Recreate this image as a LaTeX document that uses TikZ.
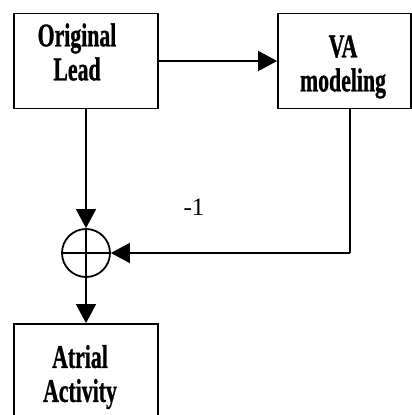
\documentclass[tikz,border=0pt]{standalone}
\usepackage{fontspec}
\setmainfont{Liberation Serif}
\newfontfamily\lblfont[BoldFeatures={FakeBold=1.2}]{Liberation Serif}
\usetikzlibrary{arrows.meta}
\tikzset{
  box/.style={draw, line width=1.8pt, rectangle, inner sep=0pt},
  lbl/.style={align=center, font=\lblfont\fontsize{33}{34}\selectfont\bfseries, xscale=0.66, inner sep=0pt},
  conn/.style={line width=1.8pt},
  arr/.style={line width=1.8pt, -{Triangle[length=19pt, width=20pt]}},
}
\begin{document}
\begin{tikzpicture}[x=1pt, y=-1pt]
\useasboundingbox (0,0) rectangle (412,415);
\node[box, minimum width=144pt, minimum height=95pt] (lead) at (86,61) {};
\node[box, minimum width=133pt, minimum height=95pt] (va) at (344.5,61) {};
\node[box, minimum width=144pt, minimum height=120pt] (atrial) at (86,384) {};
\node[lbl] (leadtxt) at (77,52) {Original\\Lead};
\node[lbl] (vatxt) at (343,67) {VA\\modeling};
\node[lbl] (atrialtxt) at (80,377) {Atrial\\Activity};
\node[draw, circle, line width=1.8pt, minimum size=48pt, inner sep=0pt] (sum) at (86,253) {};
\draw[conn] (sum.west) -- (sum.east);
\draw[conn] (sum.north) -- (sum.south);
\coordinate (corner) at (350,253);
\node[font=\fontsize{25}{25}\selectfont, inner sep=0pt] (minus) at (194,207) {-1};
\draw[arr] (lead.east) -- (va.west);
\draw[arr] (lead.south) -- (sum.north);
\draw[conn] (va.south -| corner) -- (corner);
\draw[arr] (corner) -- (sum.east);
\draw[arr] (sum.south) -- (atrial.north);
\end{tikzpicture}
\end{document}
